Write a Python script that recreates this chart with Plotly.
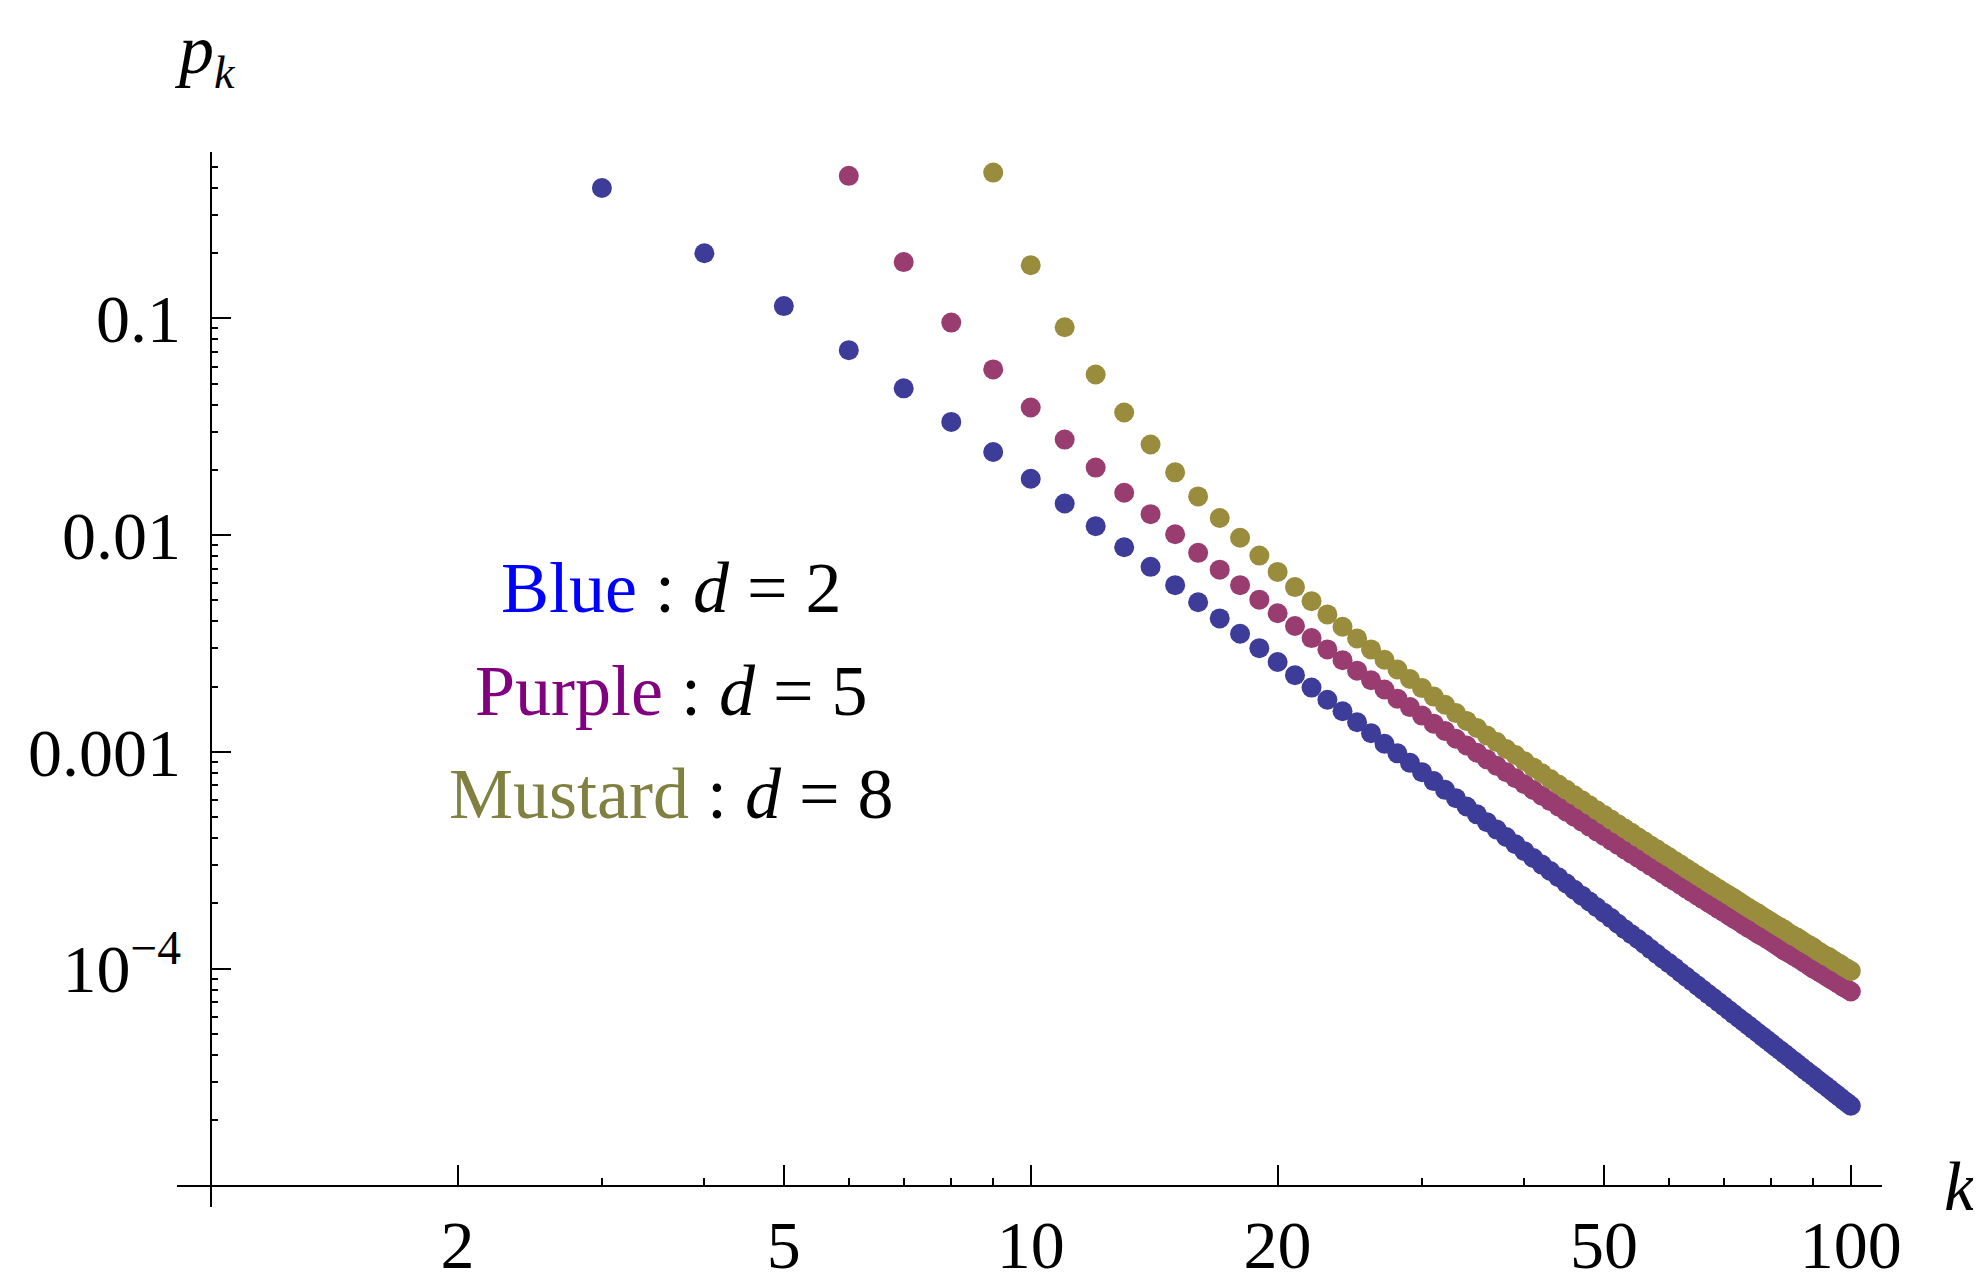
import plotly.graph_objects as go

# ---------------- data ----------------
k_blue = list(range(3, 101))
p_blue = [
    0.4, 0.2, 0.114, 0.0714, 0.0476, 0.0333, 0.0242, 0.0182, 0.014, 0.011, 0.00879, 0.00714,
    0.00588, 0.0049, 0.00413, 0.00351, 0.00301, 0.0026, 0.00226, 0.00198, 0.00174, 0.00154, 0.00137, 0.00122,
    0.00109, 0.000985, 0.00089, 0.000806, 0.000733, 0.000668, 0.000611, 0.00056, 0.000515, 0.000474, 0.000438, 0.000405,
    0.000375, 0.000348, 0.000324, 0.000302, 0.000282, 0.000264, 0.000247, 0.000231, 0.000217, 0.000204, 0.000192, 0.000181,
    0.000171, 0.000161, 0.000152, 0.000144, 0.000137, 0.00013, 0.000123, 0.000117, 0.000111, 0.000106, 0.000101, 9.6e-05,
    9.16e-05, 8.74e-05, 8.35e-05, 7.98e-05, 7.63e-05, 7.31e-05, 7e-05, 6.71e-05, 6.43e-05, 6.17e-05, 5.92e-05, 5.69e-05,
    5.47e-05, 5.26e-05, 5.06e-05, 4.87e-05, 4.69e-05, 4.52e-05, 4.35e-05, 4.2e-05, 4.05e-05, 3.91e-05, 3.77e-05, 3.65e-05,
    3.52e-05, 3.4e-05, 3.29e-05, 3.19e-05, 3.08e-05, 2.98e-05, 2.89e-05, 2.8e-05, 2.71e-05, 2.63e-05, 2.55e-05, 2.47e-05,
    2.4e-05, 2.33e-05,
]

k_purple = list(range(6, 101))
p_purple = [
    0.455, 0.182, 0.0957, 0.0582, 0.0388, 0.0276, 0.0205, 0.0157, 0.0125, 0.0101, 0.00829, 0.00693,
    0.00588, 0.00504, 0.00436, 0.00381, 0.00335, 0.00297, 0.00265, 0.00237, 0.00214, 0.00194, 0.00176, 0.00161,
    0.00147, 0.00135, 0.00125, 0.00115, 0.00107, 0.000992, 0.000924, 0.000862, 0.000806, 0.000756, 0.000709, 0.000667,
    0.000628, 0.000593, 0.00056, 0.00053, 0.000502, 0.000476, 0.000452, 0.00043, 0.000409, 0.00039, 0.000372, 0.000355,
    0.000339, 0.000325, 0.000311, 0.000298, 0.000286, 0.000274, 0.000263, 0.000253, 0.000243, 0.000234, 0.000225, 0.000217,
    0.000209, 0.000202, 0.000195, 0.000188, 0.000182, 0.000176, 0.00017, 0.000165, 0.000159, 0.000154, 0.00015, 0.000145,
    0.000141, 0.000137, 0.000133, 0.000129, 0.000125, 0.000121, 0.000118, 0.000115, 0.000112, 0.000109, 0.000106, 0.000103,
    0.0001, 9.78e-05, 9.53e-05, 9.3e-05, 9.06e-05, 8.84e-05, 8.63e-05, 8.42e-05, 8.22e-05, 8.03e-05, 7.84e-05,
]

k_mustard = list(range(9, 101))
p_mustard = [
    0.471, 0.176, 0.0911, 0.0551, 0.0368, 0.0262, 0.0195, 0.0151, 0.012, 0.00973, 0.00805, 0.00677,
    0.00576, 0.00496, 0.00431, 0.00378, 0.00334, 0.00297, 0.00266, 0.0024, 0.00217, 0.00197, 0.0018, 0.00165,
    0.00151, 0.00139, 0.00129, 0.00119, 0.00111, 0.00103, 0.000967, 0.000905, 0.000848, 0.000797, 0.00075, 0.000707,
    0.000668, 0.000631, 0.000598, 0.000567, 0.000538, 0.000512, 0.000487, 0.000464, 0.000443, 0.000423, 0.000404, 0.000387,
    0.00037, 0.000355, 0.00034, 0.000327, 0.000314, 0.000302, 0.00029, 0.000279, 0.000269, 0.000259, 0.00025, 0.000241,
    0.000233, 0.000225, 0.000218, 0.000211, 0.000204, 0.000197, 0.000191, 0.000185, 0.00018, 0.000174, 0.000169, 0.000164,
    0.000159, 0.000155, 0.000151, 0.000146, 0.000142, 0.000139, 0.000135, 0.000131, 0.000128, 0.000125, 0.000121, 0.000118,
    0.000115, 0.000113, 0.00011, 0.000107, 0.000105, 0.000102, 9.99e-05, 9.76e-05,
]

x_tick_vals = [2, 5, 10, 20, 50, 100]
x_tick_text = ["2", "5", "10", "20", "50", "100"]
x_minor_vals = [3, 4, 6, 7, 8, 9, 30, 40, 60, 70, 80, 90]
y_tick_vals = [0.1, 0.01, 0.001, 1e-4]
y_tick_text = ["0.1", "0.01", "0.001", "10<sup>\u22124</sup>"]
y_minor_vals = ([m * 1e-5 for m in range(2, 10)] + [m * 1e-4 for m in range(2, 10)]
                + [m * 1e-3 for m in range(2, 10)] + [m * 1e-2 for m in range(2, 10)]
                + [m * 1e-1 for m in range(2, 6)])

legend_rows = [("Blue", "#0000ff", "2"), ("Purple", "#800080", "5"), ("Mustard", "#808040", "8")]
series = [
    (k_blue, p_blue, "#3d3d99"),
    (k_purple, p_purple, "#993d71"),
    (k_mustard, p_mustard, "#998c3d"),
]

# ---------------- figure ----------------
OFF = 8                      # the page body adds an 8px margin
W, H = 1981 - OFF, 1275 - OFF
L, T = 177 - OFF, 152 - OFF
R = W - (1882 - OFF)
B = H - (1207 - OFF)
PW, PH = W - L - R, H - T - B
FONT = "Liberation Serif, Times New Roman, serif"


def px_x(x):
    """window x pixel -> paper fraction"""
    return (x - OFF - L) / PW


def px_y(y):
    """window y pixel -> paper fraction"""
    return (H - B - (y - OFF)) / PH


fig = go.Figure()
for ks, ps, col in series:
    fig.add_trace(go.Scatter(x=ks, y=ps, mode="markers",
                             marker=dict(size=20, color=col, line=dict(width=0)),
                             showlegend=False, hoverinfo="skip"))

axis_common = dict(
    type="log", showgrid=False, zeroline=False, showline=True,
    linecolor="black", linewidth=1.6, ticks="inside", ticklen=20, tickwidth=1.5,
    tickcolor="black", tickfont=dict(family=FONT, size=68, color="black"),
    anchor="free", automargin=False,
)

fig.update_layout(
    width=W, height=H,
    margin=dict(l=L, r=R, t=T, b=B),
    plot_bgcolor="white", paper_bgcolor="white",
    xaxis=dict(range=[-0.041, 2.038], position=px_y(1186),
               tickmode="array", tickvals=x_tick_vals, ticktext=x_tick_text,
               ticklabelstandoff=0,
               minor=dict(tickmode="array", tickvals=x_minor_vals, ticks="inside",
                          ticklen=7, tickwidth=1.5, tickcolor="black", showgrid=False),
               **axis_common),
    yaxis=dict(range=[-5.1, -0.232], position=px_x(210.5),
               tickmode="array", tickvals=y_tick_vals, ticktext=y_tick_text,
               ticklabelstandoff=15,
               minor=dict(tickmode="array", tickvals=y_minor_vals, ticks="inside",
                          ticklen=7, tickwidth=1.5, tickcolor="black", showgrid=False),
               **axis_common),
)

row_y = [588, 691, 794]
for (name, col, dval), yy in zip(legend_rows, row_y):
    txt = f"<span style='color:{col}'>{name}</span> : <i>d</i> = {dval}"
    fig.add_annotation(x=px_x(671), y=px_y(yy), xref="paper", yref="paper",
                       xanchor="center", yanchor="middle", showarrow=False,
                       text=txt, font=dict(family=FONT, size=72, color="black"))

# axis titles
fig.add_annotation(x=px_x(172), y=px_y(50), xref="paper", yref="paper",
                   xanchor="left", yanchor="middle", showarrow=False,
                   text="<i>p</i>", font=dict(family=FONT, size=70, color="black"))
fig.add_annotation(x=px_x(212), y=px_y(72), xref="paper", yref="paper",
                   xanchor="left", yanchor="middle", showarrow=False,
                   text="<i>k</i>", font=dict(family=FONT, size=46, color="black"))
fig.add_annotation(x=px_x(1942), y=px_y(1186), xref="paper", yref="paper",
                   xanchor="left", yanchor="middle", showarrow=False,
                   text="<i>k</i>", font=dict(family=FONT, size=70, color="black"))

fig.write_html("out.html")
